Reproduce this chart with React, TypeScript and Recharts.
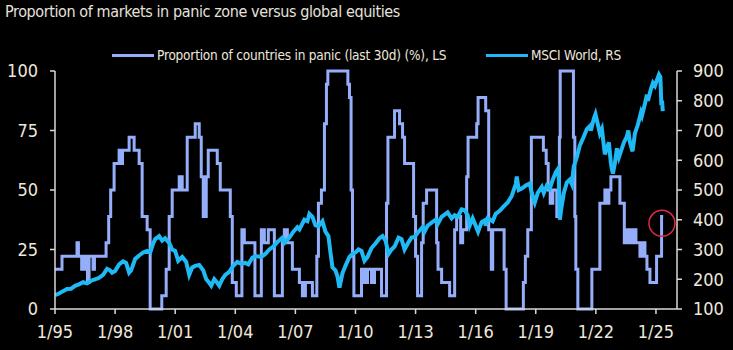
import React from 'react';
import { LineChart, Line, XAxis, YAxis, ReferenceDot } from 'recharts';

// [year, % of countries in panic] - step changes
const panicData = [
  [1995.0, 16.7], [1995.35, 22.2], [1996.1, 27.8], [1996.17, 22.2], [1996.33, 16.7],
  [1996.45, 22.2], [1996.55, 16.7], [1996.62, 11.1], [1996.7, 22.2], [1996.9, 16.7],
  [1996.97, 22.2], [1997.55, 27.8], [1997.68, 38.9], [1997.78, 50], [1997.95, 61.1],
  [1998.2, 66.7], [1998.3, 61.1], [1998.37, 66.7], [1998.7, 72.2], [1998.95, 66.7],
  [1999.2, 61.1], [1999.35, 38.9], [1999.6, 33.3], [1999.75, 0], [2000.33, 5.6],
  [2000.55, 16.7], [2000.7, 38.9], [2000.85, 50], [2001.2, 55.6], [2001.35, 50],
  [2001.6, 72.2], [2002.0, 77.8], [2002.2, 72.2], [2002.3, 55.6], [2002.4, 38.9],
  [2002.55, 55.6], [2002.65, 66.7], [2003.1, 61.1], [2003.25, 50], [2003.75, 38.9],
  [2003.85, 11.1], [2004.05, 5.6], [2004.33, 33.3], [2004.45, 27.8], [2004.98, 5.6],
  [2005.3, 33.3], [2005.45, 27.8], [2005.65, 33.3], [2005.95, 5.6],
  [2006.35, 27.8], [2006.45, 33.3], [2006.6, 27.8], [2006.85, 16.7],
  [2007.2, 11.1], [2007.35, 5.6], [2007.5, 11.1], [2007.85, 5.6], [2008.07, 22.2],
  [2008.15, 44.4], [2008.3, 50], [2008.45, 77.8], [2008.55, 94.4], [2008.62, 100],
  [2009.62, 94.4], [2009.7, 88.9], [2009.78, 50], [2009.85, 22.2], [2009.92, 5.6],
  [2010.3, 16.7], [2010.45, 11.1], [2010.6, 16.7], [2010.8, 11.1], [2010.95, 16.7],
  [2011.3, 5.6], [2011.55, 44.4], [2011.62, 72.2],
  [2011.95, 83.3], [2012.2, 77.8], [2012.35, 72.2], [2012.45, 61.1], [2012.9, 38.9],
  [2013.0, 22.2], [2013.1, 5.6], [2013.3, 27.8], [2013.38, 44.4], [2013.55, 50],
  [2014.05, 27.8], [2014.12, 16.7], [2014.3, 11.1], [2014.7, 5.6], [2014.95, 33.3],
  [2015.05, 38.9], [2015.25, 27.8], [2015.35, 33.3], [2015.55, 55.6], [2015.62, 72.2],
  [2016.05, 77.8], [2016.12, 88.9], [2016.5, 83.3], [2016.65, 33.3], [2016.78, 16.7],
  [2016.85, 33.3], [2017.42, 16.7], [2017.52, 0], [2018.38, 11.1], [2018.48, 22.2],
  [2018.6, 33.3], [2018.78, 72.2], [2019.38, 66.7], [2019.52, 61.1], [2019.62, 50],
  [2019.72, 44.4], [2019.85, 50], [2020.05, 38.9], [2020.18, 72.2], [2020.22, 100],
  [2020.88, 72.2], [2020.95, 38.9], [2021.0, 16.7], [2021.1, 0], [2021.8, 16.7],
  [2022.2, 44.4], [2022.45, 50], [2022.55, 44.4], [2022.65, 50], [2022.75, 55.6],
  [2023.2, 44.4], [2023.42, 27.8], [2023.5, 33.3], [2023.6, 27.8], [2023.7, 33.3],
  [2023.8, 27.8], [2023.9, 33.3], [2024.0, 27.8], [2024.2, 22.2], [2024.3, 27.8],
  [2024.45, 22.2], [2024.55, 16.7], [2024.7, 11.1], [2025.03, 22.2], [2025.28, 38.9],
  [2025.36, 38.9],
].map(([t, v]) => ({ t, v }));

// [year, MSCI World index level]
const msciData = [
  [1995.0, 147], [1995.2, 152], [1995.4, 160], [1995.6, 167], [1995.8, 168], [1996.0, 178],
  [1996.2, 183], [1996.4, 190], [1996.6, 186], [1996.8, 195], [1997.0, 200], [1997.2, 205],
  [1997.4, 215], [1997.6, 235], [1997.75, 230], [1997.85, 222], [1998.0, 228], [1998.2, 250],
  [1998.4, 260], [1998.55, 255], [1998.7, 222], [1998.8, 230], [1999.0, 268], [1999.2, 280],
  [1999.4, 290], [1999.6, 295], [1999.75, 290], [1999.9, 320], [2000.0, 335], [2000.2, 345],
  [2000.35, 330], [2000.5, 338], [2000.7, 322], [2000.85, 300], [2001.0, 295], [2001.15, 262],
  [2001.35, 275], [2001.55, 258], [2001.7, 215], [2001.85, 240], [2002.0, 245], [2002.2, 248],
  [2002.4, 230], [2002.55, 200], [2002.7, 188], [2002.8, 178], [2002.95, 200], [2003.1, 188],
  [2003.2, 178], [2003.35, 200], [2003.5, 215], [2003.7, 225], [2003.9, 245], [2004.1, 258],
  [2004.3, 252], [2004.5, 255], [2004.65, 250], [2004.85, 272], [2005.0, 278], [2005.3, 275],
  [2005.5, 285], [2005.7, 300], [2005.9, 310], [2006.1, 325], [2006.35, 340], [2006.45, 322],
  [2006.7, 340], [2006.9, 360], [2007.1, 375], [2007.2, 368], [2007.45, 400], [2007.6, 395],
  [2007.7, 420], [2007.85, 410], [2008.0, 382], [2008.15, 378], [2008.35, 395], [2008.5, 360],
  [2008.65, 345], [2008.75, 290], [2008.85, 240], [2009.0, 230], [2009.1, 210], [2009.2, 172],
  [2009.35, 220], [2009.5, 245], [2009.7, 275], [2009.85, 285], [2010.0, 290], [2010.15, 300],
  [2010.3, 295], [2010.45, 262], [2010.6, 275], [2010.8, 305], [2011.0, 320], [2011.2, 338],
  [2011.35, 345], [2011.5, 330], [2011.65, 285], [2011.8, 300], [2011.95, 310], [2012.15, 340],
  [2012.3, 335], [2012.45, 300], [2012.65, 325], [2012.8, 340], [2012.95, 342], [2013.15, 360],
  [2013.35, 375], [2013.45, 360], [2013.6, 380], [2013.8, 390], [2014.0, 400], [2014.1, 385],
  [2014.3, 410], [2014.5, 420], [2014.6, 425], [2014.8, 405], [2014.95, 415], [2015.1, 410],
  [2015.3, 435], [2015.45, 432], [2015.6, 415], [2015.7, 380], [2015.85, 405], [2016.0, 380],
  [2016.12, 360], [2016.3, 392], [2016.45, 398], [2016.5, 380], [2016.6, 405], [2016.85, 395],
  [2017.0, 420], [2017.2, 430], [2017.4, 445], [2017.6, 458], [2017.8, 480], [2018.0, 520],
  [2018.05, 545], [2018.15, 500], [2018.3, 505], [2018.5, 515], [2018.7, 522], [2018.8, 490],
  [2018.95, 458], [2019.1, 490], [2019.3, 510], [2019.4, 490], [2019.55, 515], [2019.7, 505],
  [2019.85, 535], [2020.0, 560], [2020.1, 570], [2020.15, 540], [2020.2, 400], [2020.28, 440],
  [2020.4, 490], [2020.55, 525], [2020.7, 535], [2020.8, 520], [2020.9, 580], [2021.05, 610],
  [2021.2, 650], [2021.4, 680], [2021.55, 705], [2021.7, 715], [2021.75, 700], [2021.9, 740],
  [2021.98, 755], [2022.1, 720], [2022.2, 690], [2022.3, 705], [2022.45, 620], [2022.55, 640],
  [2022.65, 660], [2022.75, 590], [2022.8, 570], [2022.85, 555], [2022.95, 590], [2023.05, 640],
  [2023.15, 610], [2023.25, 630], [2023.4, 660], [2023.55, 680], [2023.62, 700], [2023.7, 660],
  [2023.83, 630], [2023.95, 690], [2024.1, 720], [2024.25, 760], [2024.3, 750], [2024.45, 790],
  [2024.55, 820], [2024.6, 800], [2024.75, 840], [2024.85, 860], [2024.95, 850], [2025.05, 870],
  [2025.15, 888], [2025.22, 880], [2025.27, 785], [2025.3, 800], [2025.34, 765],
].map(([t, v]) => ({ t, v }));

const xTicks = [1995, 1998, 2001, 2004, 2007, 2010, 2013, 2016, 2019, 2022, 2025];
const leftTicks = [0, 25, 50, 75, 100];
const rightTicks = [100, 200, 300, 400, 500, 600, 700, 800, 900];

const FONT = '"Liberation Sans Narrow", "DejaVu Sans Condensed", "Roboto", sans-serif';
const TEXT = '#efe7dc';
const AXIS = '#d9d9d9';
const PANIC = '#95aefa';
const MSCI = '#1fbaf5';

const fmtYear = (t: number) => '1/' + String(t % 100).padStart(2, '0');

const LegendItem = ({ left, color, label }: { left: number; color: string; label: string }) => (
  <div style={{ position: 'absolute', left, top: 47, display: 'flex', alignItems: 'center' }}>
    <div style={{ width: 42, height: 3, background: color, marginRight: 3 }} />
    <span style={{ fontSize: 13.5, letterSpacing: -0.2, color: TEXT, fontFamily: FONT, whiteSpace: 'nowrap' }}>{label}</span>
  </div>
);

export default function App() {
  const tick = { fill: TEXT, fontSize: 18, fontFamily: FONT };
  return (
    <div style={{ position: 'absolute', left: 0, top: 0, width: 733, height: 350, background: '#000', overflow: 'hidden' }}>
      <div style={{ position: 'absolute', left: 5, top: 2, fontSize: 16, letterSpacing: -0.4, color: '#e6e2dc', fontFamily: FONT, whiteSpace: 'nowrap' }}>
        Proportion of markets in panic zone versus global equities
      </div>
      <LegendItem left={112} color={PANIC} label="Proportion of countries in panic (last 30d) (%), LS" />
      <LegendItem left={486} color={MSCI} label="MSCI World, RS" />
      <div style={{ position: 'absolute', left: 0, top: 0 }}>
        <LineChart width={733} height={350} margin={{ top: 71, right: 0, bottom: 0, left: 0 }}>
          <XAxis
            type="number"
            dataKey="t"
            domain={[1995, 2026.05]}
            ticks={xTicks}
            tickFormatter={fmtYear}
            allowDataOverflow
            height={41}
            tick={tick}
            tickSize={5}
            tickMargin={11}
            stroke={AXIS}
            strokeWidth={1.5}
          />
          <YAxis
            yAxisId="left"
            domain={[0, 100]}
            ticks={leftTicks}
            width={55}
            tick={tick}
            tickSize={5}
            tickMargin={12}
            stroke={AXIS}
            strokeWidth={1.5}
          />
          <YAxis
            yAxisId="right"
            orientation="right"
            domain={[100, 900]}
            ticks={rightTicks}
            width={56}
            tick={{ ...tick, textAnchor: 'start' }}
            tickSize={5}
            tickMargin={11}
            stroke={AXIS}
            strokeWidth={1.5}
          />
          <Line
            yAxisId="left"
            data={panicData}
            dataKey="v"
            type="stepAfter"
            stroke={PANIC}
            strokeWidth={3}
            dot={false}
            isAnimationActive={false}
          />
          <Line
            yAxisId="right"
            data={msciData}
            dataKey="v"
            type="linear"
            stroke={MSCI}
            strokeWidth={4}
            dot={false}
            isAnimationActive={false}
          />
          <ReferenceDot
            yAxisId="left"
            x={2025.3}
            y={36}
            r={13}
            fill="none"
            stroke="#e0284a"
            strokeWidth={1.5}
          />
        </LineChart>
      </div>
    </div>
  );
}
